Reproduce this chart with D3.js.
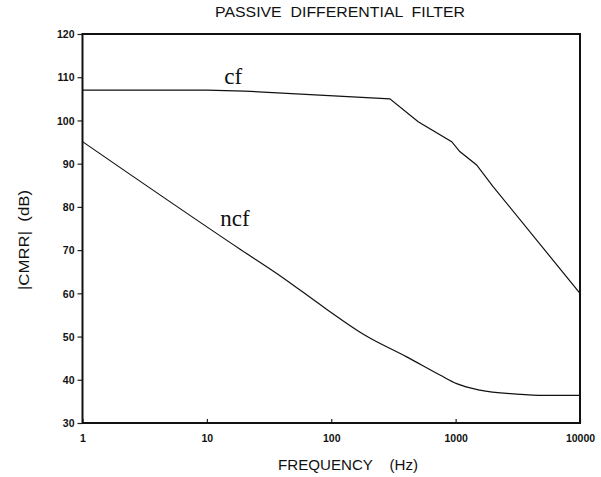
<!DOCTYPE html>
<html>
<head>
<meta charset="utf-8">
<script src="https://cdn.jsdelivr.net/npm/d3@7"></script>
<style>
  body { margin: 0; background: #fff; }
  svg text { fill: #111; white-space: pre; }
</style>
</head>
<body>
<div id="chart"></div>
<script>
// tick values
const freqTicks = [1, 10, 100, 1000, 10000];
const dbTicks = [30, 40, 50, 60, 70, 80, 90, 100, 110, 120];

// with common-mode filter
const cfFreq = [1, 10, 20, 296, 500, 930, 1080, 1475, 2000, 10000];
const cfDb = [107, 107, 106.8, 105, 99.7, 95.1, 92.8, 89.7, 84.7, 60];

// no common-mode filter
const ncfFreq = [1, 18.5, 40, 86, 187, 404, 748, 1019, 1567, 3090, 5224, 10000];
const ncfDb = [95.1, 70.2, 63.8, 56.9, 50.3, 45.3, 41.1, 39.1, 37.6, 36.7, 36.4, 36.4];

const dimensions = {
  width: 601,
  height: 477,
  margin: { top: 34, right: 21, bottom: 54, left: 82.5 }
};
dimensions.ctrWidth = dimensions.width - dimensions.margin.left - dimensions.margin.right;
dimensions.ctrHeight = dimensions.height - dimensions.margin.top - dimensions.margin.bottom;

const svg = d3.select('#chart')
  .append('svg')
  .attr('width', dimensions.width)
  .attr('height', dimensions.height);

const ctr = svg.append('g')
  .attr('transform', `translate(${dimensions.margin.left}, ${dimensions.margin.top})`);

const xScale = d3.scaleLog()
  .domain([1, 10000])
  .range([0, dimensions.ctrWidth]);

const yScale = d3.scaleLinear()
  .domain([30, 120])
  .range([dimensions.ctrHeight, 0]);

// x axis: ticks point inward
const xAxis = d3.axisBottom(xScale)
  .tickValues(freqTicks)
  .tickSizeInner(-4)
  .tickSizeOuter(0)
  .tickPadding(12)
  .tickFormat(d3.format('d'));

const xAxisGroup = ctr.append('g')
  .attr('transform', `translate(0, ${dimensions.ctrHeight})`)
  .call(xAxis);

// y axis: ticks point outward
const yAxis = d3.axisLeft(yScale)
  .tickValues(dbTicks)
  .tickSizeInner(5)
  .tickSizeOuter(0)
  .tickPadding(3);

const yAxisGroup = ctr.append('g').call(yAxis);

[xAxisGroup, yAxisGroup].forEach(g => {
  g.select('.domain').remove();
  g.selectAll('line').attr('stroke', '#222').attr('stroke-width', 1.2);
  g.selectAll('text')
    .attr('font-family', 'Arial, "Liberation Sans", sans-serif')
    .attr('font-size', 10.5)
    .attr('font-weight', 'bold');
});
yAxisGroup.selectAll('text').attr('dy', '0.35em');

// frame
ctr.append('rect')
  .attr('x', 0)
  .attr('y', 0)
  .attr('width', dimensions.ctrWidth)
  .attr('height', dimensions.ctrHeight)
  .attr('fill', 'none')
  .attr('stroke', '#111')
  .attr('stroke-width', 2);

const series = [
  { name: 'cf', values: d3.zip(cfFreq, cfDb), curve: d3.curveLinear },
  { name: 'ncf', values: d3.zip(ncfFreq, ncfDb), curve: d3.curveMonotoneX }
];

ctr.selectAll('path.curve')
  .data(series)
  .join('path')
  .attr('class', 'curve')
  .attr('d', d => d3.line()
    .x(p => xScale(p[0]))
    .y(p => yScale(p[1]))
    .curve(d.curve)(d.values))
  .attr('fill', 'none')
  .attr('stroke', '#111')
  .attr('stroke-width', 1.2);

// curve labels
ctr.append('text')
  .attr('x', xScale(13.8))
  .attr('y', yScale(108.4))
  .attr('font-family', '"Liberation Serif", "Times New Roman", serif')
  .attr('font-size', 23)
  .text('cf');

ctr.append('text')
  .attr('x', xScale(12.8))
  .attr('y', yScale(75.5))
  .attr('font-family', '"Liberation Serif", "Times New Roman", serif')
  .attr('font-size', 23)
  .text('ncf');

// titles
svg.append('text')
  .attr('x', 340)
  .attr('y', 17)
  .attr('text-anchor', 'middle')
  .attr('font-family', 'Arial, "Liberation Sans", sans-serif')
  .attr('font-size', 14)
  .attr('textLength', 250)
  .attr('lengthAdjust', 'spacingAndGlyphs')
  .text('PASSIVE  DIFFERENTIAL  FILTER');

svg.append('text')
  .attr('x', 348)
  .attr('y', 470)
  .attr('text-anchor', 'middle')
  .attr('font-family', 'Arial, "Liberation Sans", sans-serif')
  .attr('font-size', 15)
  .attr('textLength', 140)
  .attr('lengthAdjust', 'spacingAndGlyphs')
  .text('FREQUENCY    (Hz)');

svg.append('text')
  .attr('transform', 'translate(29, 240) rotate(-90)')
  .attr('text-anchor', 'middle')
  .attr('font-family', 'Arial, "Liberation Sans", sans-serif')
  .attr('font-size', 14)
  .attr('textLength', 100)
  .attr('lengthAdjust', 'spacingAndGlyphs')
  .text('|CMRR|  (dB)');
</script>
</body>
</html>
